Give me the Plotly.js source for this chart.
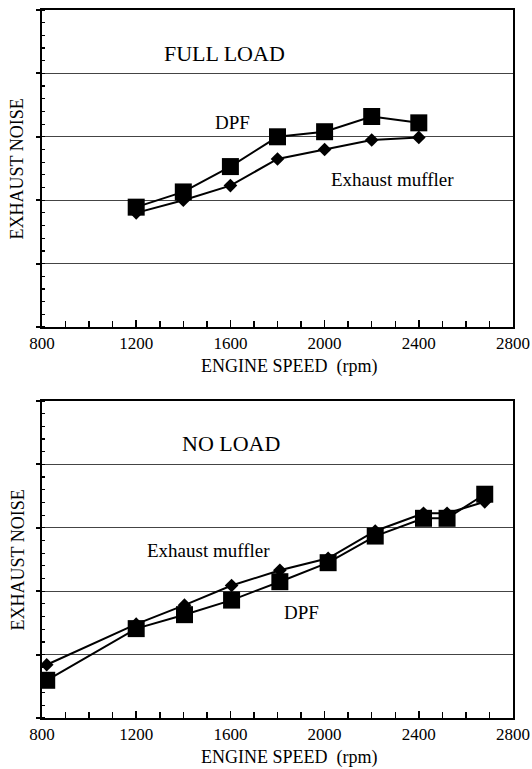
<!DOCTYPE html>
<html>
<head>
<meta charset="utf-8">
<script src="https://cdn.plot.ly/plotly-3.0.1.min.js"></script>
<style>html,body{margin:0;padding:0;background:#fff;}#chart{width:532px;height:769px;}</style>
</head>
<body>
<div id="chart"></div>
<script>
// FULL LOAD panel
const fullRpm = [1200, 1400, 1600, 1800, 2000, 2200, 2400];
const fullMuffler = [1.80, 2.00, 2.23, 2.65, 2.80, 2.95, 2.99];
const fullDPF = [1.89, 2.13, 2.53, 3.00, 3.08, 3.32, 3.22];
// NO LOAD panel
const noRpm = [820, 1200, 1405, 1605, 1810, 2015, 2215, 2420, 2520, 2680];
const noMuffler = [0.84, 1.48, 1.78, 2.09, 2.33, 2.52, 2.95, 3.23, 3.23, 3.41];
const noDPF = [0.595, 1.41, 1.63, 1.86, 2.15, 2.45, 2.87, 3.15, 3.15, 3.53];
const xTickVals = [800, 1200, 1600, 2000, 2400, 2800];
const xTickText = ['800', '1200', '1600', '2000', '2400', '2800'];

const FONT = '"Liberation Serif", "Times New Roman", Times, "DejaVu Serif", serif';
const diamond = {symbol: 'diamond', size: 10.5, color: '#000'};
const square = {symbol: 'square', size: 17, color: '#000'};
const line = {color: '#000', width: 2};

const traces = [
  {x: fullRpm, y: fullMuffler, xaxis: 'x', yaxis: 'y', mode: 'lines+markers', marker: diamond, line: line, name: 'Exhaust muffler'},
  {x: fullRpm, y: fullDPF, xaxis: 'x', yaxis: 'y', mode: 'lines+markers', marker: square, line: line, name: 'DPF'},
  {x: noRpm, y: noMuffler, xaxis: 'x2', yaxis: 'y2', mode: 'lines+markers', marker: diamond, line: line, name: 'Exhaust muffler'},
  {x: noRpm, y: noDPF, xaxis: 'x2', yaxis: 'y2', mode: 'lines+markers', marker: square, line: line, name: 'DPF'}
];

function xAxis(anchor) {
  return {
    anchor: anchor, range: [800, 2800], tickmode: 'array', tickvals: xTickVals, ticktext: xTickText,
    ticks: 'inside', ticklen: 7, tickwidth: 1.5, tickcolor: '#000',
    showline: true, linecolor: '#000', linewidth: 2, mirror: true, showgrid: false, zeroline: false,
    tickfont: {family: FONT, size: 17, color: '#000'},
    minor: {dtick: 100, tick0: 800, ticks: 'inside', ticklen: 6, tickwidth: 1.5, tickcolor: '#000', showgrid: false}
  };
}
function yAxis(anchor, domain) {
  return {
    anchor: anchor, domain: domain, range: [0, 5], dtick: 1, tick0: 0,
    ticks: 'outside', ticklen: 4, tickwidth: 2, tickcolor: '#000', showticklabels: false,
    showline: true, linecolor: '#000', linewidth: 2, mirror: true,
    showgrid: true, gridcolor: '#444', gridwidth: 1.2, zeroline: false,
    minor: {dtick: 0.2, tick0: 0, ticks: 'inside', ticklen: 3, tickwidth: 1.2, tickcolor: '#000', showgrid: false}
  };
}

function ann(text, x, y, xref, yref, size, extra) {
  return Object.assign({text: text, x: x, y: y, xref: xref, yref: yref, showarrow: false,
    xanchor: 'center', yanchor: 'middle', font: {family: FONT, size: size, color: '#000'}}, extra || {});
}

const layout = {
  width: 532, height: 769,
  margin: {l: 42, r: 19, t: 10, b: 51},
  paper_bgcolor: '#fff', plot_bgcolor: '#fff',
  showlegend: false,
  font: {family: FONT, color: '#000'},
  xaxis: xAxis('y'),
  yaxis: yAxis('x', [0.5523, 1]),
  xaxis2: xAxis('y2'),
  yaxis2: yAxis('x2', [0, 0.4477]),
  annotations: [
    ann('FULL LOAD', 1577, 4.31, 'x', 'y', 22),
    ann('DPF', 1611, 3.23, 'x', 'y', 19),
    ann('Exhaust muffler', 2290, 2.32, 'x', 'y', 19),
    ann('NO LOAD', 1603, 4.33, 'x2', 'y2', 22),
    ann('Exhaust muffler', 1509, 2.65, 'x2', 'y2', 19),
    ann('DPF', 1903, 1.67, 'x2', 'y2', 19),
    ann('ENGINE SPEED&nbsp; (rpm)', 0.5244, -0.126, 'x domain', 'y domain', 18),
    ann('ENGINE SPEED&nbsp; (rpm)', 0.5244, -0.126, 'x2 domain', 'y2 domain', 18),
    ann('EXHAUST NOISE', -0.051, 0.5, 'x domain', 'y domain', 18, {textangle: -90}),
    ann('EXHAUST NOISE', -0.051, 0.5, 'x2 domain', 'y2 domain', 18, {textangle: -90})
  ]
};

Plotly.newPlot('chart', traces, layout, {displayModeBar: false, staticPlot: true});
</script>
</body>
</html>
